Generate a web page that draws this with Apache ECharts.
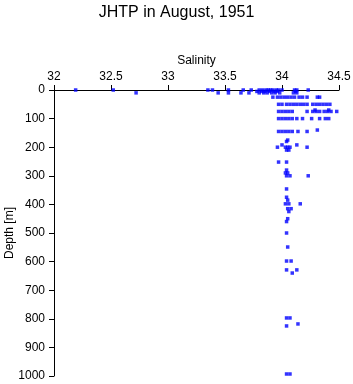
<!DOCTYPE html>
<html>
<head>
<meta charset="utf-8">
<script src="https://cdn.jsdelivr.net/npm/echarts@6/dist/echarts.min.js"></script>
<style>
  html, body { margin: 0; padding: 0; background: #fff; }
  #chart { width: 353px; height: 384px; }
</style>
</head>
<body>
<div id="chart"></div>
<script>
// salinity readings grouped by depth (m)
var depths = [0, 5, 10, 25, 50, 70, 75, 100, 140, 145, 175, 180, 192, 200, 210, 252, 280, 290, 300,
  346, 375, 385, 398, 415, 425, 450, 460, 500, 549, 598, 629, 640, 797, 818, 825, 993];
var salinity = [
  [32.19, 32.52, 33.35, 33.39, 33.53, 33.66, 33.73, 33.80, 33.83, 33.86, 33.88, 33.90, 33.92, 33.95, 33.97, 34.00, 34.11, 34.13, 34.23],
  [33.78, 33.82, 33.85, 33.89, 33.93, 33.96, 34.12],
  [32.72, 33.44, 33.53, 33.64, 33.71, 33.80, 33.84, 33.87, 33.91, 33.94, 33.98, 34.10, 34.13],
  [33.92, 33.96, 33.99, 34.02, 34.05, 34.08, 34.11, 34.15, 34.18, 34.22, 34.31, 34.33],
  [33.97, 34.00, 34.04, 34.07, 34.10, 34.13, 34.16, 34.19, 34.22, 34.27, 34.30, 34.33, 34.36, 34.39, 34.42],
  [34.29, 34.41],
  [33.97, 34.00, 34.03, 34.06, 34.09, 34.22, 34.27, 34.30, 34.33, 34.37, 34.40, 34.43, 34.48],
  [33.97, 34.00, 34.03, 34.06, 34.09, 34.13, 34.18, 34.26, 34.33, 34.38, 34.41],
  [34.31],
  [33.97, 34.00, 34.03, 34.06, 34.09, 34.14, 34.22],
  [34.05],
  [34.04],
  [34.00, 34.13],
  [33.96, 34.03, 34.05, 34.07, 34.22],
  [34.04, 34.06],
  [33.97, 34.04],
  [34.04],
  [34.03, 34.05],
  [34.04, 34.07, 34.23],
  [34.04],
  [34.04],
  [34.05],
  [34.03, 34.06, 34.16],
  [34.05, 34.08],
  [34.06],
  [34.05],
  [34.04],
  [34.04],
  [34.05],
  [34.04, 34.08],
  [34.04, 34.13],
  [34.09],
  [34.04, 34.07],
  [34.14],
  [34.04],
  [34.04, 34.07]
];
var salinityTicks = [32, 32.5, 33, 33.5, 34, 34.5];

var points = [];
depths.forEach(function (d, i) {
  salinity[i].forEach(function (s) { points.push([s, d]); });
});

var chart = echarts.init(document.getElementById('chart'));
var font = 'Liberation Sans, Arial, sans-serif';

chart.setOption({
  animation: false,
  title: {
    text: 'JHTP in August, 1951',
    left: 'center',
    top: 0,
    textStyle: { fontFamily: font, fontSize: 16, fontWeight: 'normal', color: '#000' }
  },
  grid: { left: 54, right: 14, top: 90, bottom: 8, containLabel: false, outerBoundsMode: 'none' },
  xAxis: {
    type: 'value',
    position: 'top',
    min: 32, max: 34.5, interval: 0.5,
    name: 'Salinity',
    nameLocation: 'middle',
    nameGap: 23,
    nameMoveOverlap: false,
    nameTextStyle: { fontFamily: font, fontSize: 12, color: '#000' },
    axisLine: { onZero: false, lineStyle: { color: '#000', width: 1 } },
    axisTick: { length: 5, lineStyle: { color: '#000' } },
    axisLabel: {
      fontFamily: font, fontSize: 12, color: '#000', margin: 7,
      formatter: function (v) { return salinityTicks.indexOf(v) >= 0 ? String(v) : ''; }
    },
    splitLine: { show: false }
  },
  yAxis: {
    type: 'value',
    inverse: true,
    min: 0, max: 1000, interval: 100,
    name: 'Depth [m]',
    nameLocation: 'middle',
    nameGap: 38,
    nameMoveOverlap: false,
    nameTextStyle: { fontFamily: font, fontSize: 12, color: '#000' },
    axisLine: { show: true, onZero: false, lineStyle: { color: '#000', width: 1 } },
    axisTick: { show: true, length: 5, lineStyle: { color: '#000' } },
    axisLabel: {
      fontFamily: font, fontSize: 12, color: '#000', margin: 9,
      formatter: function (v) { return String(v); }
    },
    splitLine: { show: false }
  },
  series: [{
    type: 'scatter',
    data: points,
    symbol: 'rect',
    symbolSize: 3.5,
    itemStyle: { color: '#0000ff' }
  }]
});
</script>
</body>
</html>
